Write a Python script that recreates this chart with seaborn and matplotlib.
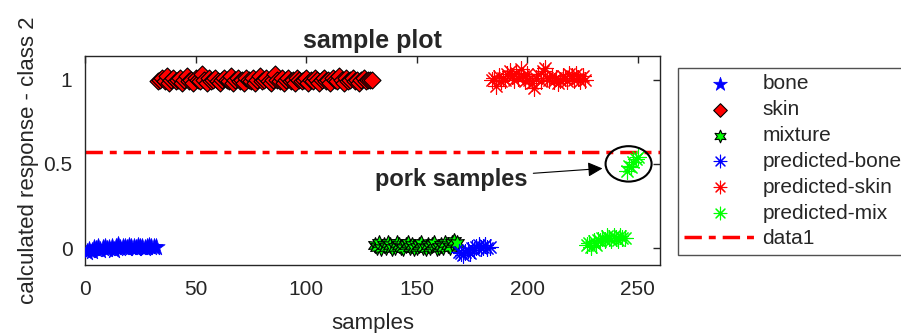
import matplotlib
matplotlib.use("Agg")
import matplotlib.pyplot as plt
from matplotlib.patches import Ellipse
import seaborn as sns
import numpy as np

# values
bone = [-0.02, -0.01, -0.015, 0.0, -0.005, 0.005, -0.01, 0.0, 0.01, -0.005,
        0.0, 0.005, -0.01, 0.01, 0.02, 0.0, 0.005, 0.01, 0.0, 0.015,
        0.005, 0.01, 0.0, 0.015, 0.005, 0.01, 0.0, 0.01, 0.015, 0.005,
        0.01, 0.005]
skin = [0.99, 1.0, 1.01, 0.99, 1.02, 0.98, 1.0, 1.01, 0.99, 1.0,
        1.01, 0.98, 1.0, 1.02, 0.99, 1.0, 0.98, 1.01, 1.0, 0.99,
        1.03, 1.0, 0.98, 1.01, 0.99, 1.0, 1.01, 0.99, 0.98, 1.0,
        1.01, 1.0, 0.99, 1.02, 0.98, 1.0, 1.01, 0.99, 1.0, 0.98,
        1.01, 1.0, 0.99, 1.01, 0.98, 1.0, 1.02, 0.99, 1.0, 1.01,
        0.99, 0.98, 1.0, 1.03, 1.0, 0.99, 1.01, 0.98, 1.0, 1.01,
        0.99, 1.0, 0.98, 1.01, 1.0, 0.99, 1.0, 1.01, 0.98, 1.0,
        0.99, 1.01, 1.0, 0.98, 1.0, 1.01, 0.99, 1.0, 0.98, 1.01,
        1.0, 0.99, 1.02, 1.0, 0.98, 1.01, 0.99, 1.0, 1.01, 0.99,
        1.0, 0.98, 1.0, 1.01, 0.99, 1.0, 1.0, 1.0]
mixture = [0.02, 0.01, 0.03, 0.0, 0.02, 0.01, 0.03, 0.02, 0.0, 0.01,
           0.03, 0.02, 0.01, 0.0, 0.02, 0.03, 0.01, 0.02, 0.0, 0.01,
           0.02, 0.03, 0.01, 0.0, 0.02, 0.01, 0.02, 0.03, 0.0, 0.01,
           0.02, 0.01, 0.03, 0.02, 0.01, 0.03, 0.04, 0.03]
pred_bone = [-0.02, -0.03, -0.04, -0.02, -0.01, -0.03, 0.0, -0.01, 0.01, 0.02,
             0.0, 0.01, 0.02, 0.0, 0.01]
pred_skin = [1.0, 1.01, 0.96, 1.02, 0.99, 1.01, 1.0, 1.03, 1.05, 1.02,
             1.0, 1.04, 1.01, 1.06, 1.02, 0.99, 1.03, 1.0, 0.98, 0.95,
             1.01, 1.03, 0.99, 1.05, 1.07, 1.01, 1.0, 1.02, 0.99, 1.01,
             0.98, 1.0, 1.02, 1.01, 0.99, 1.03, 1.02, 1.0, 1.03, 1.01,
             0.99, 1.02, 1.0]
pred_mix = [0.02, 0.03, 0.01, 0.04, 0.02, 0.05, 0.04, 0.06, 0.05, 0.07,
            0.06, 0.05, 0.07, 0.06, 0.05, 0.07, 0.06, 0.06, 0.46, 0.49,
            0.48, 0.51, 0.53, 0.54]
threshold = 0.57

bone_start, skin_start, mix_start = 1, 33, 131
pbone_start, pskin_start, pmix_start = 169, 184, 227

def samples(start, vals):
    return np.arange(start, start + len(vals))

sns.set_theme(style="white")
plt.rcParams['font.family'] = ['Liberation Sans', 'DejaVu Sans']

fig = plt.figure(figsize=(9.01, 3.33), dpi=100)
ax = fig.add_axes([0.0943, 0.204, 0.6382, 0.628])

sns.scatterplot(x=samples(bone_start, bone), y=bone, marker='*', s=170,
                color='blue', edgecolor='blue', linewidth=0.5, ax=ax, label='bone', zorder=3)
sns.scatterplot(x=samples(skin_start, skin), y=skin, marker='D', s=75,
                color='red', edgecolor='black', linewidth=0.8, ax=ax, label='skin', zorder=3)
sns.scatterplot(x=samples(mix_start, mixture), y=mixture, marker=(6, 1, 0), s=130,
                color='#00ff00', edgecolor='black', linewidth=0.8, ax=ax, label='mixture', zorder=3)
sns.scatterplot(x=samples(pbone_start, pred_bone), y=pred_bone, marker=(8, 2, 0), s=130,
                color='blue', edgecolor='blue', linewidth=0.8, ax=ax, label='predicted-bone', zorder=3)
sns.scatterplot(x=samples(pskin_start, pred_skin), y=pred_skin, marker=(8, 2, 0), s=130,
                color='red', edgecolor='red', linewidth=0.8, ax=ax, label='predicted-skin', zorder=3)
sns.scatterplot(x=samples(pmix_start, pred_mix), y=pred_mix, marker=(8, 2, 0), s=130,
                color='#00ff00', edgecolor='#00ff00', linewidth=0.8, ax=ax, label='predicted-mix', zorder=3)
sns.lineplot(x=[0, 260], y=[threshold, threshold], color='red', linewidth=2.5,
             linestyle=(0, (5, 2, 2, 2)), ax=ax, label='data1', zorder=2)

ax.add_patch(Ellipse((245.8, 0.50), 20.8, 0.21, fill=False, edgecolor='black', linewidth=1.5, zorder=4))
ax.annotate('pork samples', xy=(234, 0.473), xytext=(200, 0.41), fontsize=17, fontweight='bold',
            ha='right', va='center',
            arrowprops=dict(arrowstyle='-|>', color='black', lw=0.8, mutation_scale=22,
                            shrinkA=2, shrinkB=0))

ax.set_xlim(0, 260)
ax.set_ylim(-0.1, 1.14)
ax.set_xticks([0, 50, 100, 150, 200, 250])
ax.set_yticks([0, 0.5, 1])
ax.set_yticklabels(['0', '0.5', '1'])
ax.tick_params(direction='in', top=True, right=True, length=5, width=1, labelsize=15,
               colors='0.15')
ax.tick_params(axis='x', pad=11)
ax.tick_params(axis='y', pad=9)
for sp in ax.spines.values():
    sp.set_color('0.15')
    sp.set_linewidth(1)
ax.set_title('sample plot', fontsize=18, fontweight='bold', pad=6)
ax.set_xlabel('samples', fontsize=16, labelpad=10)
ax.set_ylabel('calculated response - class 2', fontsize=16, labelpad=3)

leg = ax.legend(loc='upper left', bbox_to_anchor=(678 / 901, 1 - 68 / 333), bbox_transform=fig.transFigure,
                fontsize=15, frameon=True, fancybox=False, edgecolor='0.15', handlelength=3.4,
                handletextpad=0.35, borderaxespad=0, labelspacing=0.33, borderpad=0.3,
                markerscale=0.8)
leg.get_frame().set_linewidth(1)

fig.savefig('out.png', dpi=100)
